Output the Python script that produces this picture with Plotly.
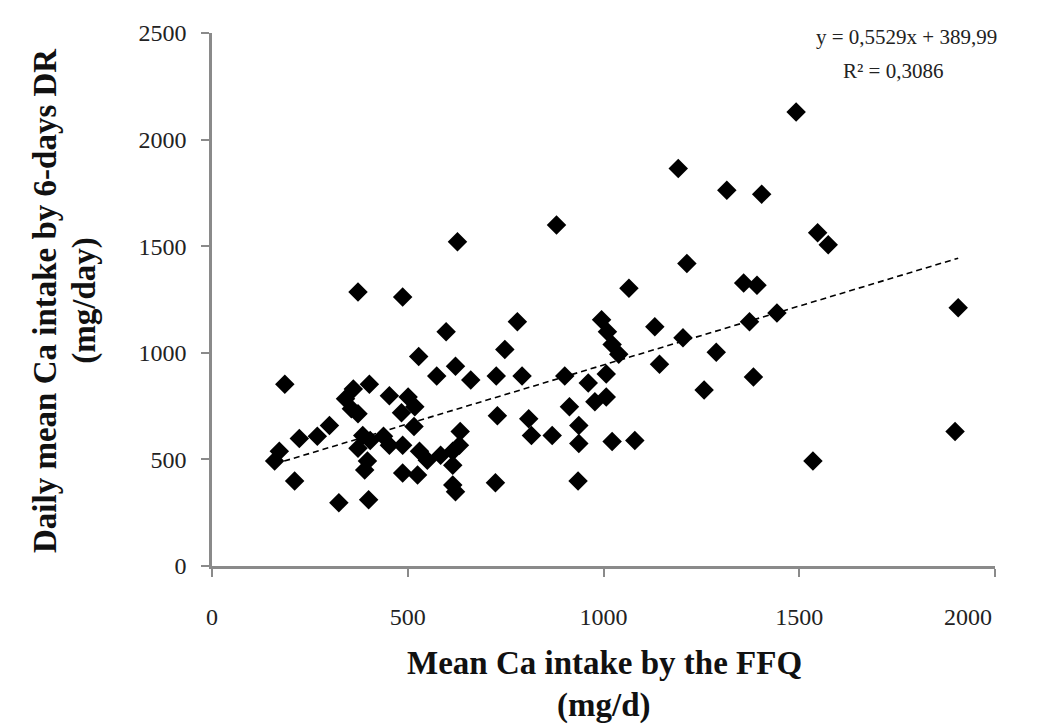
import plotly.graph_objects as go

# Mean Ca intake by FFQ (mg/d)
ffq = [1492, 1191, 1315, 1404, 1547, 1574, 1213, 1065, 1358, 1392,
       1906, 1898, 1535, 1443, 1373, 1288, 1257, 1383, 1203, 1143,
       1131, 1080, 1022, 995, 1010, 1022, 1039, 1007, 961, 901,
       1007, 978, 913, 937, 869, 937, 935, 809, 816, 880, 627,
       373, 487, 186, 598, 780, 528, 748, 574, 622, 661,
       726, 792, 729, 724, 453, 501, 518, 484, 516, 402,
       361, 341, 356, 373, 300, 269, 223, 172, 160, 211,
       324, 400, 385, 373, 404, 438, 453, 487, 397, 390,
       530, 550, 584, 615, 634, 632, 487, 525, 615, 622, 615]
# Daily mean Ca intake by 6-days DR (mg/day)
dr = [2129, 1865, 1763, 1744, 1563, 1507, 1419, 1303, 1327, 1317,
      1211, 631, 492, 1187, 1146, 1002, 826, 886, 1071, 946,
      1122, 589, 584, 1155, 1099, 1039, 993, 900, 858, 891,
      793, 770, 747, 659, 612, 575, 399, 691, 612, 1600, 1521,
      1285, 1262, 853, 1099, 1146, 983, 1016, 891, 937, 872,
      891, 891, 705, 390, 798, 793, 747, 719, 654, 853,
      830, 784, 737, 714, 659, 608, 598, 538, 492, 399,
      297, 311, 612, 552, 589, 608, 566, 566, 492, 450,
      538, 496, 519, 538, 631, 566, 436, 427, 380, 348, 473]

slope = 0.5529
intercept = 389.99
equation_text = "y = 0,5529x + 389,99"
r2_text = "R² = 0,3086"

x_ticks = [0, 500, 1000, 1500, 2000]
x_ticktext = ["0", "500", "1000", "1500", "2000" + "&nbsp;" * 9]
y_ticks = [0, 500, 1000, 1500, 2000, 2500]

x_title = ["Mean Ca intake by the FFQ", "(mg/d)"]
y_title = ["Daily mean Ca intake by 6-days DR", "(mg/day)"]

trend_x = [min(ffq), max(ffq)]
trend_y = [slope * v + intercept for v in trend_x]

fig = go.Figure()
fig.add_trace(go.Scatter(
    x=ffq, y=dr, mode="markers",
    marker=dict(symbol="diamond", size=15, color="black",
                line=dict(width=0)),
    showlegend=False, hoverinfo="x+y"))
fig.add_trace(go.Scatter(
    x=trend_x, y=trend_y, mode="lines",
    line=dict(color="black", width=1.6, dash="6px,4px"),
    showlegend=False, hoverinfo="skip"))

font_family = "Liberation Serif, Times New Roman, serif"
tick_font = dict(family=font_family, size=24, color="#222")
title_font = dict(family=font_family, size=33, color="#111")

fig.update_layout(
    width=1050, height=728,
    margin=dict(l=204, r=16, t=15, b=170),
    paper_bgcolor="white", plot_bgcolor="white",
    font=dict(family=font_family, size=20, color="#222"),
    xaxis=dict(
        range=[0, 2000], tickvals=x_ticks, ticktext=x_ticktext,
        showgrid=False, zeroline=False,
        showline=True, linecolor="#8a8a8a", linewidth=2.5,
        ticks="outside", ticklen=8, tickwidth=2, tickcolor="#8a8a8a",
        ticklabelstandoff=19, ticklabeloverflow="allow",
        tickfont=tick_font,
    ),
    yaxis=dict(
        range=[0, 2500], tickvals=y_ticks, ticktext=[str(v) for v in y_ticks],
        showgrid=False, zeroline=False,
        showline=True, linecolor="#8a8a8a", linewidth=2.5,
        ticks="outside", ticklen=8, tickwidth=2, tickcolor="#8a8a8a",
        ticklabelstandoff=10, ticklabeloverflow="allow",
        tickfont=tick_font,
    ),
    annotations=[
        dict(xref="paper", yref="paper", x=0.887, y=0.993, text=equation_text,
             showarrow=False, xanchor="center", yanchor="middle",
             font=dict(family=font_family, size=21, color="#222")),
        dict(xref="paper", yref="paper", x=0.870, y=0.929, text=r2_text,
             showarrow=False, xanchor="center", yanchor="middle",
             font=dict(family=font_family, size=21, color="#222")),
        dict(xref="paper", yref="paper", x=0.501, y=-0.182,
             text="<b>%s</b>" % x_title[0], showarrow=False,
             xanchor="center", yanchor="middle", font=title_font),
        dict(xref="paper", yref="paper", x=0.501, y=-0.262,
             text="<b>%s</b>" % x_title[1], showarrow=False,
             xanchor="center", yanchor="middle", font=title_font),
        dict(xref="paper", yref="paper", x=-0.2133, y=0.499,
             text="<b>%s</b>" % y_title[0], showarrow=False, textangle=-90,
             xanchor="center", yanchor="middle", font=title_font),
        dict(xref="paper", yref="paper", x=-0.1639, y=0.499,
             text="<b>%s</b>" % y_title[1], showarrow=False, textangle=-90,
             xanchor="center", yanchor="middle", font=title_font),
    ],
)

fig.write_html("out.html")
